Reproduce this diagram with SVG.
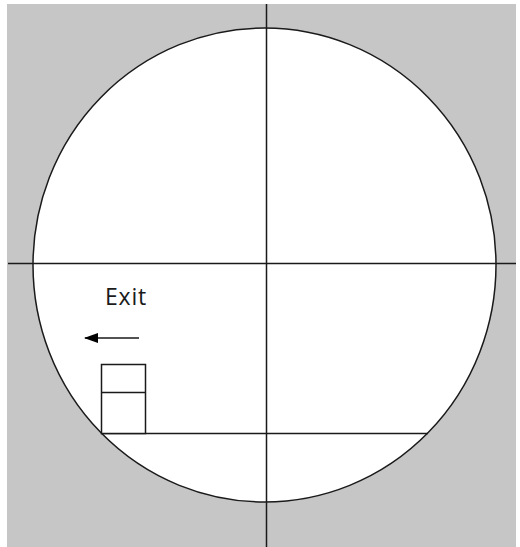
<svg xmlns="http://www.w3.org/2000/svg" width="520" height="547" viewBox="0 0 520 547">
<style>
.ln{stroke:#1a1a1a;stroke-width:1.5}
.lbl{font-family:"Open Sans","DejaVu Sans",sans-serif;font-size:23px;letter-spacing:0.8px;fill:#1a1a1a}
</style>
<defs>
<marker id="ah" markerWidth="14" markerHeight="10" refX="13" refY="5" orient="auto" markerUnits="userSpaceOnUse">
<path d="M0,0 L14,5 L0,10 Z" fill="#000"/>
</marker>
</defs>
<rect width="520" height="547" fill="#fff"/>
<rect x="7" y="4" width="509" height="543" fill="#c6c6c6"/>
<g id="circle"><ellipse cx="264.5" cy="265" rx="231.5" ry="237" fill="#fff" class="ln"/></g>
<g id="connectors" fill="none">
<line x1="266.5" y1="4" x2="266.5" y2="547" class="ln"/>
<line x1="8" y1="263.5" x2="516" y2="263.5" class="ln"/>
<line x1="101" y1="433.5" x2="428" y2="433.5" class="ln"/>
<line x1="139" y1="338" x2="85" y2="338" class="ln" marker-end="url(#ah)"/>
</g>
<g id="exit-label"><text x="105" y="305" class="lbl">Exit</text></g>
<g id="door">
<rect x="101.5" y="364.5" width="44" height="69" fill="#fff" class="ln"/>
<line x1="101.5" y1="392.5" x2="145.5" y2="392.5" class="ln"/>
</g>
</svg>
